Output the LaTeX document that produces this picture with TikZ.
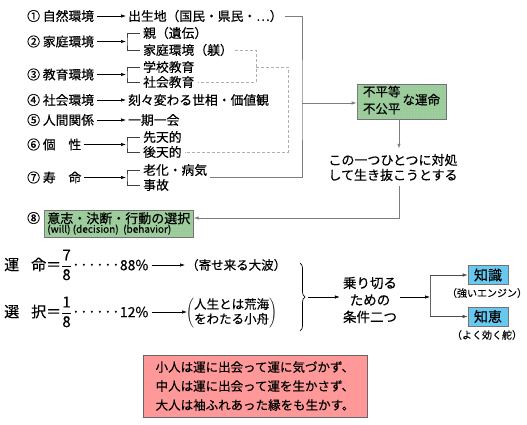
\documentclass[tikz,border=0pt]{standalone}
\usepackage{fontspec}
\setmainfont{Noto Sans CJK JP}[FakeBold=0.35]
\usetikzlibrary{arrows.meta,decorations.pathreplacing,patterns}
\definecolor{boxgreen}{RGB}{153,204,153}
\definecolor{boxblue}{RGB}{104,200,240}
\definecolor{boxpink}{RGB}{255,153,153}
\definecolor{lnk}{RGB}{125,125,125}
\definecolor{dsh}{RGB}{175,175,175}
\newcommand\mfont{\fontsize{12.8}{15}\selectfont}
\newcommand\leaderdots{\hbox to 48pt{\xleaders\hbox to 8pt{\hss·\hss}\hfill}}
\newcommand\fracn[2]{$\displaystyle\frac{\mbox{\fontsize{15}{15}\selectfont #1}}{\mbox{\fontsize{15}{15}\selectfont #2}}$}
\begin{document}
\begin{tikzpicture}[x=1pt,y=-1pt,
  lab/.style={anchor=west,inner sep=0pt,font=\mfont},
  sarr/.style={draw=black,line width=0.6pt,-{Latex[length=5pt,width=3.4pt]}},
  brk/.style={draw=black!75,line width=0.6pt},
  gline/.style={draw=lnk,line width=0.9pt},
  garr/.style={gline,-{Latex[length=5pt,width=3.4pt]}},
  dline/.style={draw=dsh,line width=0.9pt,dash pattern=on 3pt off 2pt},
  gbox/.style={draw=black!55,fill=boxgreen,line width=0.6pt,postaction={pattern=dots,pattern color=black!18}},
  bbox/.style={draw=black!55,fill=boxblue,line width=0.6pt,minimum width=40pt,minimum height=19pt,inner sep=0pt,font=\fontsize{14}{16}\selectfont},
  captxt/.style={inner sep=0pt,font=\fontsize{10}{12}\selectfont}]
\useasboundingbox[fill=white] (0,0) rectangle (527,425);

% row 1
\node[lab] (l1) at (27,16) {① 自然環境};
\node[lab] (t1) at (128,16) {出生地（国民・県民・…）};
\draw[sarr] ([xshift=3pt]l1.east) -- ([xshift=-2pt]t1.west);

% row 2
\coordinate (b2) at (127,41.5);
\node[lab] (l2) at (27,41.5) {② 家庭環境};
\node[lab] (s2a) at (143,33) {親（遺伝）};
\node[lab] (s2b) at (143,50) {家庭環境（躾）};
\draw[sarr] ([xshift=3pt]l2.east) -- ([xshift=-1pt]b2);
\draw[brk] ([xshift=-3pt]s2a.west) -| (b2) |- ([xshift=-3pt]s2b.west);

% row 3
\coordinate (b3) at (127,74.5);
\node[lab] (l3) at (27,74.5) {③ 教育環境};
\node[lab] (s3a) at (143,67) {学校教育};
\node[lab] (s3b) at (143,82) {社会教育};
\draw[sarr] ([xshift=3pt]l3.east) -- ([xshift=-1pt]b3);
\draw[brk] ([xshift=-3pt]s3a.west) -| (b3) |- ([xshift=-3pt]s3b.west);

% row 4, 5
\node[lab] (l4) at (27,100) {④ 社会環境};
\node[lab] (t4) at (128,100) {刻々変わる世相・価値観};
\draw[sarr] ([xshift=3pt]l4.east) -- ([xshift=-2pt]t4.west);
\node[lab] (l5) at (27,120) {⑤ 人間関係};
\node[lab] (t5) at (128,120) {一期一会};
\draw[sarr] ([xshift=3pt]l5.east) -- ([xshift=-2pt]t5.west);

% row 6
\coordinate (b6) at (127,144.5);
\node[lab] (l6) at (27,144.5) {⑥ 個　性};
\node[lab] (s6a) at (143,137) {先天的};
\node[lab] (s6b) at (143,152) {後天的};
\draw[sarr] ([xshift=3pt]l6.east) -- ([xshift=-1pt]b6);
\draw[brk] ([xshift=-3pt]s6a.west) -| (b6) |- ([xshift=-3pt]s6b.west);

% row 7
\coordinate (b7) at (127,177.5);
\node[lab] (l7) at (27,177.5) {⑦ 寿　命};
\node[lab] (s7a) at (143,170) {老化・病気};
\node[lab] (s7b) at (143,185) {事故};
\draw[sarr] ([xshift=3pt]l7.east) -- ([xshift=-1pt]b7);
\draw[brk] ([xshift=-3pt]s7a.west) -| (b7) |- ([xshift=-3pt]s7b.west);

% row 8
\node[lab] (l8) at (27,218) {⑧};
\node[gbox,anchor=west,minimum width=149pt,minimum height=27pt,inner xsep=3pt,inner ysep=0.5pt,align=left,font=\fontsize{10}{11}\selectfont] (b8) at (44,223.5)
  {{\fontsize{13}{14}\selectfont 意志・決断・行動の選択}\\[-1.5pt](will) (decision) \ (behavior)};

% dashed links
\coordinate (da) at (256,67);
\coordinate (db) at (288,67);
\draw[dline] ([xshift=2pt]s2b.east) -| (da) |- ([xshift=3pt]s3b.east);
\draw[dline] (da) -- (db) |- ([xshift=3pt]s6b.east);

% solid collector
\coordinate (j1) at (302,103);
\draw[gline] ([xshift=2pt]t1.east) -| (j1) -- (j1 |- b7) -- ([xshift=3pt]s7a.east |- b7);

\node[gbox,minimum width=89pt,minimum height=35pt,inner sep=0pt,font=\fontsize{12.5}{17}\selectfont] (fate) at (401.5,101.5)
  {\begin{tabular}{@{}l@{}}不平等\\不公平\end{tabular}\,な運命};
\draw[garr] (j1) -- (j1 -| fate.west);

\coordinate (ax) at (399,0);
\node[inner xsep=0pt,inner ysep=5pt,align=center,font=\fontsize{13}{15}\selectfont] (cope) at (393,167.5)
  {この一つひとつに対処\\して生き抜こうとする};
\draw[garr] (fate.south -| ax) -- (cope.north -| ax);
\draw[garr] (cope.south -| ax) -- (ax |- l8) -- (b8.east |- l8);

% bottom section
\node[anchor=west,inner sep=0pt,font=\fontsize{15}{18}\selectfont] (n1) at (4,265)
  {運\hspace{0.8em}命＝\fracn{7}{8}\leaderdots{\fontsize{14}{14}\selectfont 88\%}};
\node[anchor=west,inner sep=0pt,font=\fontsize{12.5}{15}\selectfont] (w1) at (186,265) {（寄せ来る大波）};
\draw[sarr] ([xshift=3pt]n1.east) -- ([xshift=-1pt]w1.west);

\node[anchor=west,inner sep=0pt,font=\fontsize{15}{18}\selectfont] (n2) at (4,312)
  {選\hspace{0.8em}択＝\fracn{1}{8}\leaderdots{\fontsize{14}{14}\selectfont 12\%}};
\node[anchor=west,inner sep=0pt,font=\fontsize{12.5}{14}\selectfont] (w2) at (186,313)
  {$\left(\mbox{\begin{tabular}{@{}l@{}}人生とは荒海\\をわたる小舟\end{tabular}}\right)$};
\draw[sarr] ([xshift=3pt]n2.east |- n2) -- ([xshift=1pt]w2.west |- n2);

\draw[decorate,decoration={brace,amplitude=5pt},line width=0.7pt] (300,263) -- (300,331);
\coordinate (bt) at (305,297);
\node[align=center,inner sep=0pt,font=\fontsize{13.5}{17}\selectfont] (cond) at (370,300) {乗り切る\\ための\\条件二つ};
\draw[sarr] ([xshift=3pt]bt) -- ([xshift=-3pt]cond.west |- bt);
\coordinate (jv) at (430,297);
\draw[sarr] ([xshift=3pt]cond.east |- jv) -- (jv);

\node[bbox] (k1) at (488,275) {知識};
\node[bbox] (k2) at (488,316.5) {知恵};
\draw[draw=black!60,line width=0.6pt] (jv |- k1) -- (jv |- k2);
\draw[sarr,draw=black!70] (jv |- k1) -- (k1.west);
\draw[sarr,draw=black!70] (jv |- k2) -- (k2.west);
\node[captxt] (c1) at (487,293) {（強いエンジン）};
\node[captxt] (c2) at (487,335) {（よく効く舵）};

\node[draw=black!60,fill=boxpink,line width=0.6pt,minimum width=224pt,minimum height=62pt,inner sep=0pt,align=left,font=\fontsize{12.5}{19}\selectfont] (pk) at (255,386)
  {小人は運に出会って運に気づかず、\\中人は運に出会って運を生かさず、\\大人は袖ふれあった縁をも生かす。};
\end{tikzpicture}
\end{document}
